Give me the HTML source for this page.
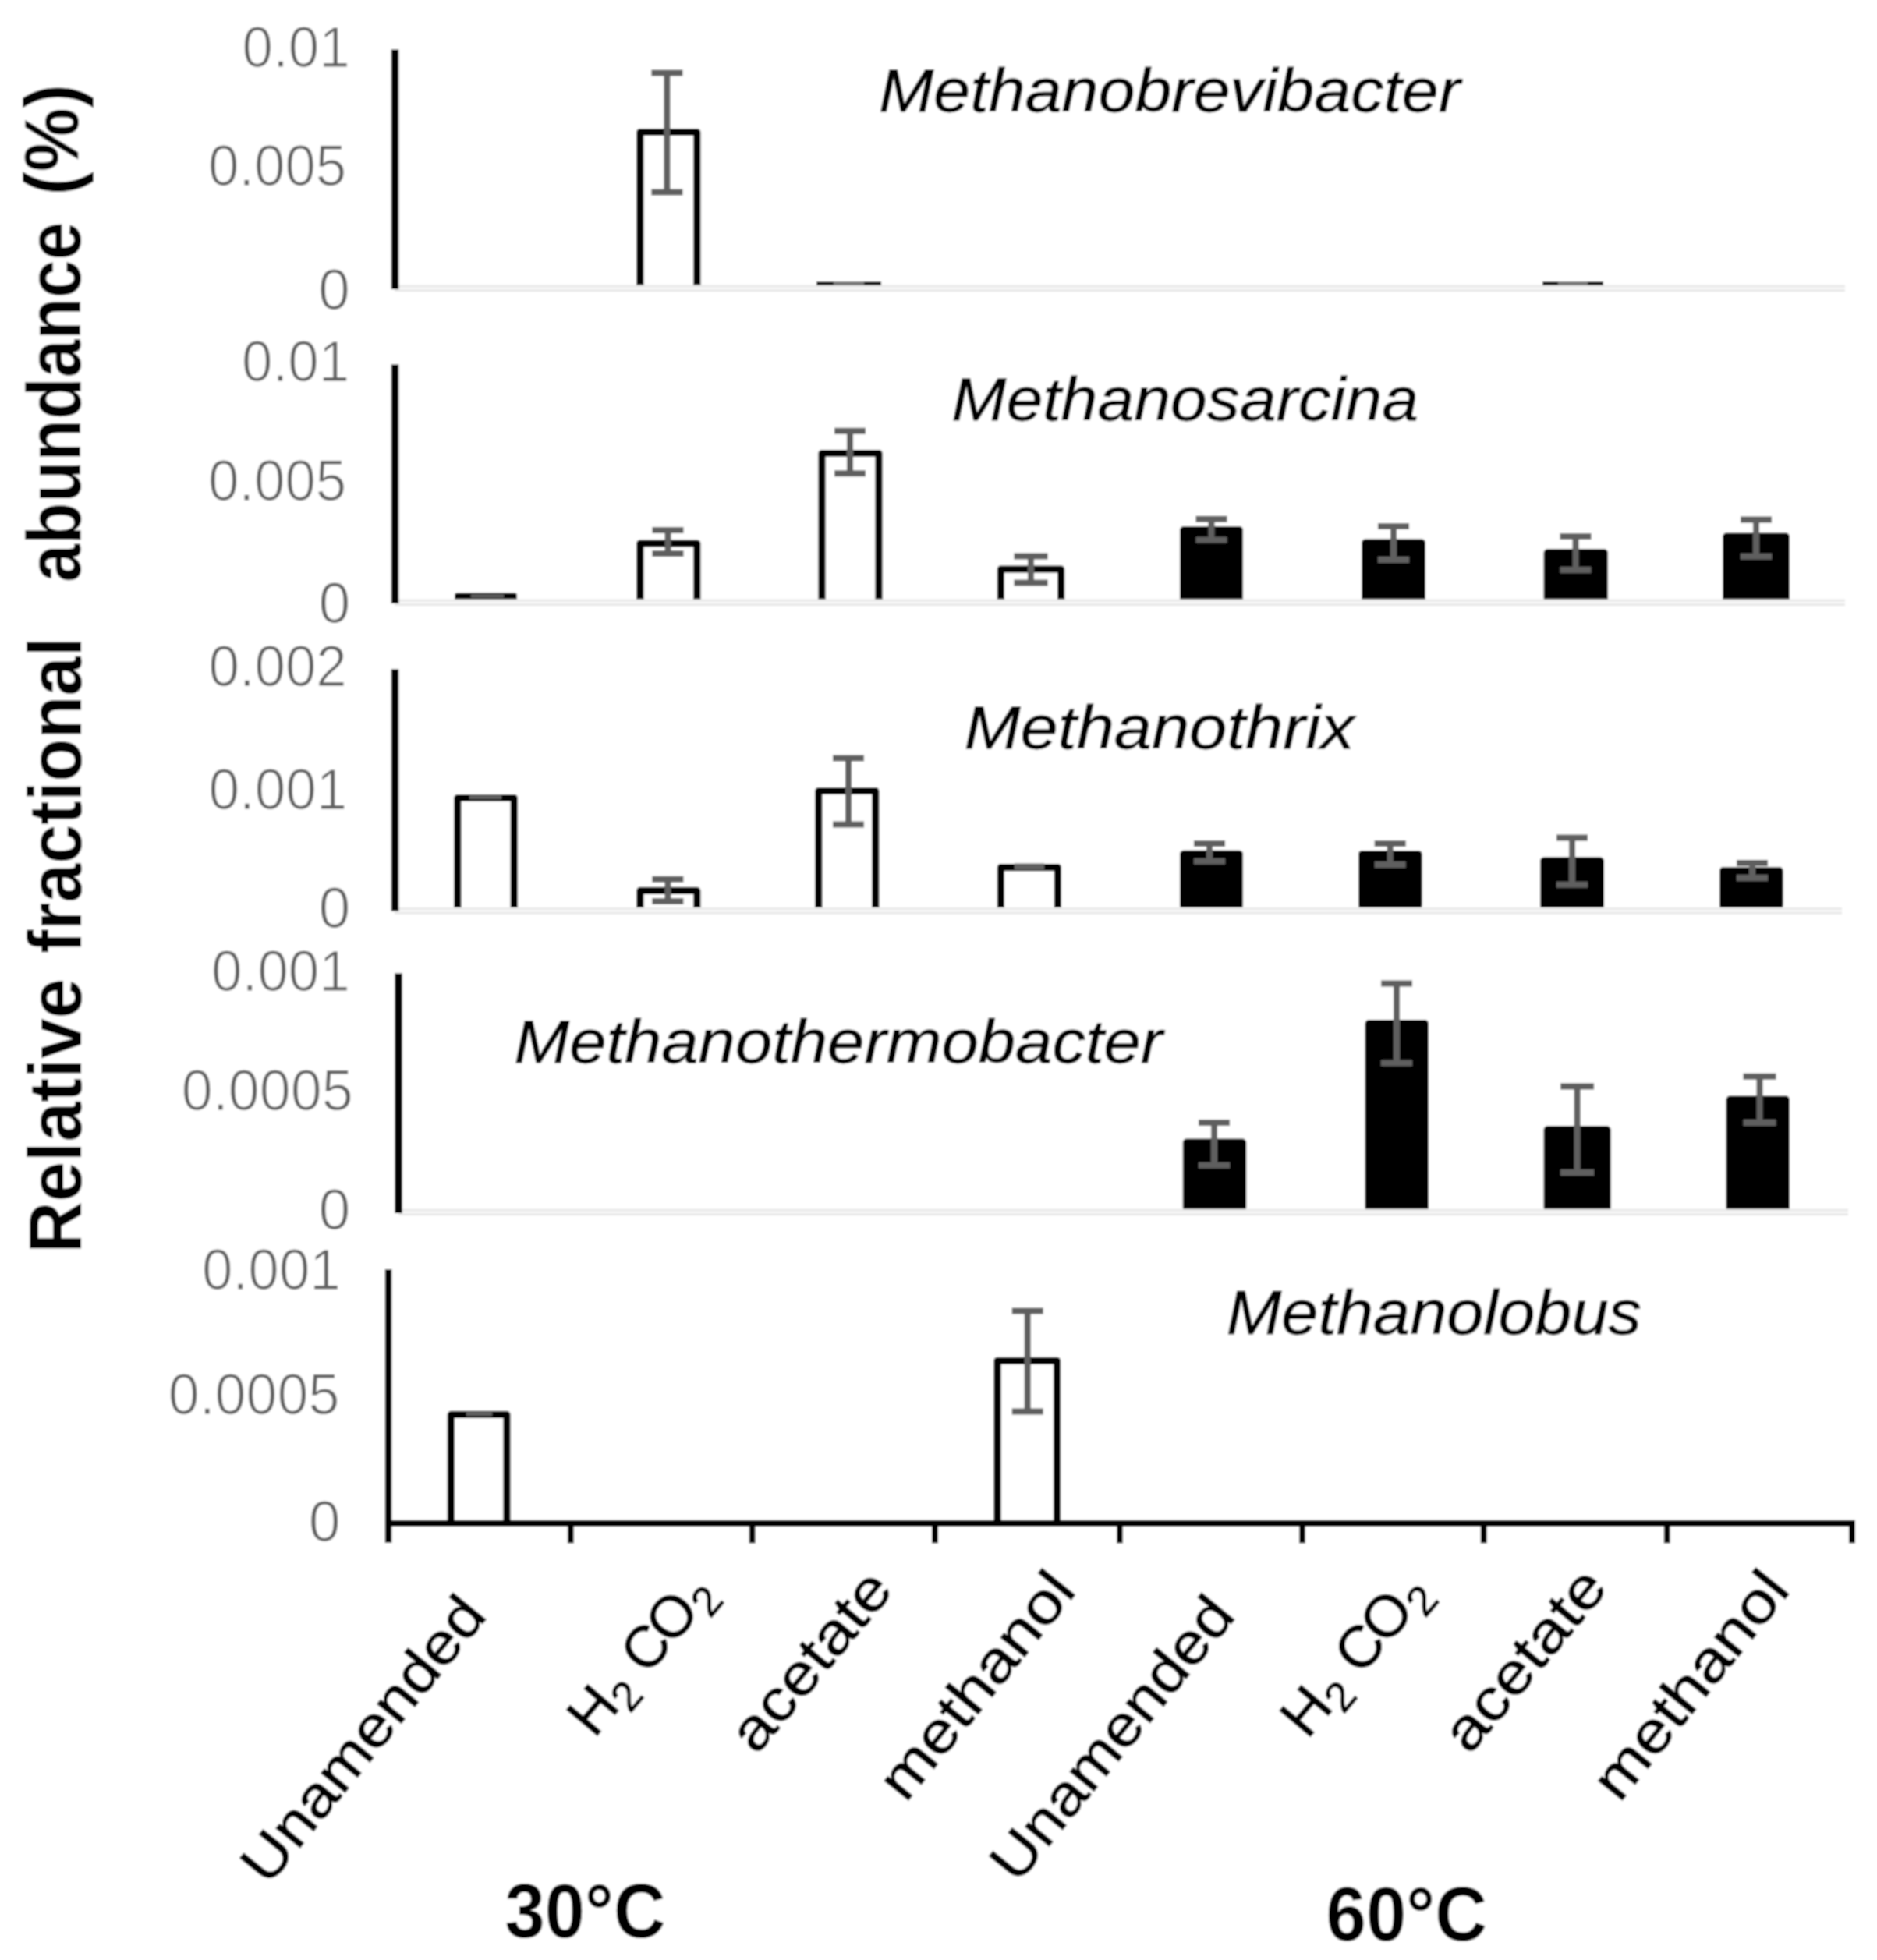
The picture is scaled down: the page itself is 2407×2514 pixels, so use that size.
<!DOCTYPE html>
<html lang="en"><head><meta charset="utf-8"><title>Relative fractional abundance of methanogens</title>
<style>
html,body{margin:0;padding:0;background:#fff;}
body{width:2407px;height:2514px;overflow:hidden;}
svg{display:block;}
svg text{font-family:"Liberation Sans",sans-serif;fill:#000;}
svg text.tk{fill:#606060;stroke:#fff;stroke-width:1.1px;}
svg text.gn{font-style:italic;stroke:#000;stroke-width:0.8px;}
svg text.ct{stroke:#000;stroke-width:1.3px;}
svg text.yt{font-weight:bold;}
</style></head><body>
<svg width="2407" height="2514" viewBox="0 0 2407 2514">
<defs><filter id="soft" x="0" y="0" width="2407" height="2514" filterUnits="userSpaceOnUse"><feGaussianBlur stdDeviation="1.2"/></filter></defs>
<rect width="2407" height="2514" fill="#fff"/>
<g filter="url(#soft)">
<rect width="2407" height="2514" fill="#fff"/>
<g id="p1">
<path d="M820.8 369 V169.5 H893.8 V369" fill="none" stroke="#000" stroke-width="9.2" stroke-linejoin="round"/>
<path d="M506 367.4 H2366" stroke="#eaeaea" stroke-width="3.6" fill="none"/>
<path d="M506 372.6 H2366" stroke="#e7e7e7" stroke-width="3" fill="none"/>
<line x1="506.5" y1="63.5" x2="506.5" y2="371" stroke="#000" stroke-width="9.6" stroke-linecap="butt"/>
<path d="M835.4 93.5 H875.4 M855.4 93.5 V246.5 M835.4 246.5 H875.4" fill="none" stroke="#5f5f5f" stroke-width="8.0" stroke-linecap="butt"/>
<line x1="1047" y1="363.4" x2="1130" y2="363.4" stroke="#1a1a1a" stroke-width="5" stroke-linecap="butt"/>
<line x1="1069" y1="363.4" x2="1108" y2="363.4" stroke="#777" stroke-width="5" stroke-linecap="butt"/>
<line x1="1978" y1="363.4" x2="2056" y2="363.4" stroke="#1a1a1a" stroke-width="5" stroke-linecap="butt"/>
<line x1="1998" y1="363.4" x2="2036" y2="363.4" stroke="#777" stroke-width="5" stroke-linecap="butt"/>
</g>
<g id="p2">
<rect x="583" y="760.4" width="80" height="9.6" rx="3" fill="#000"/>
<path d="M820.8 771.5 V697.0 H893.8 V771.5" fill="none" stroke="#000" stroke-width="9.2" stroke-linejoin="round"/>
<path d="M1054.0 771.5 V581.5 H1127.0 V771.5" fill="none" stroke="#000" stroke-width="9.2" stroke-linejoin="round"/>
<path d="M1283.4 771.5 V730.0 H1360.6 V771.5" fill="none" stroke="#000" stroke-width="9.2" stroke-linejoin="round"/>
<rect x="1513" y="675" width="81" height="96.5" rx="5" fill="#000"/>
<rect x="1746" y="691.4" width="82" height="80.1" rx="5" fill="#000"/>
<rect x="1979.6" y="704.3" width="82.4" height="67.2" rx="5" fill="#000"/>
<rect x="2209" y="683.6" width="86" height="87.9" rx="5" fill="#000"/>
<path d="M506 770.4 H2366" stroke="#eaeaea" stroke-width="3.6" fill="none"/>
<path d="M506 775.6 H2366" stroke="#e7e7e7" stroke-width="3" fill="none"/>
<line x1="506.5" y1="467.5" x2="506.5" y2="774" stroke="#000" stroke-width="9.6" stroke-linecap="butt"/>
<line x1="604" y1="764.6" x2="646" y2="764.6" stroke="#5f5f5f" stroke-width="4.5" stroke-linecap="butt"/>
<path d="M836.5 680 H876.5 M856.5 680 V710 M836.5 710 H876.5" fill="none" stroke="#5f5f5f" stroke-width="8.0" stroke-linecap="butt"/>
<path d="M1070.0 552.8 H1110.0 M1090 552.8 V607.3 M1070.0 607.3 H1110.0" fill="none" stroke="#5f5f5f" stroke-width="8.0" stroke-linecap="butt"/>
<path d="M1300.5 713.5 H1343.5 M1322 713.5 V747.5 M1300.5 747.5 H1343.5" fill="none" stroke="#5f5f5f" stroke-width="8.0" stroke-linecap="butt"/>
<path d="M1533.5 665.7 H1573.5 M1553.5 665.7 V692.6 M1533.5 692.6 H1573.5" fill="none" stroke="#5f5f5f" stroke-width="8.0" stroke-linecap="butt"/>
<path d="M1767.0 675 H1807.0 M1787 675 V718 M1767.0 718 H1807.0" fill="none" stroke="#5f5f5f" stroke-width="8.0" stroke-linecap="butt"/>
<path d="M2000.5 688 H2040.5 M2020.5 688 V731 M2000.5 731 H2040.5" fill="none" stroke="#5f5f5f" stroke-width="8.0" stroke-linecap="butt"/>
<path d="M2232.0 666.5 H2272.0 M2252 666.5 V713.7 M2232.0 713.7 H2272.0" fill="none" stroke="#5f5f5f" stroke-width="8.0" stroke-linecap="butt"/>
</g>
<g id="p3">
<path d="M586.8 1166 V1023.5 H659.3 V1166" fill="none" stroke="#000" stroke-width="9.2" stroke-linejoin="round"/>
<path d="M820.8 1166 V1142.4 H893.8 V1166" fill="none" stroke="#000" stroke-width="9.2" stroke-linejoin="round"/>
<path d="M1049.8 1166 V1014.5 H1122.8 V1166" fill="none" stroke="#000" stroke-width="9.2" stroke-linejoin="round"/>
<path d="M1283.4 1166 V1112.6 H1356.4 V1166" fill="none" stroke="#000" stroke-width="9.2" stroke-linejoin="round"/>
<rect x="1513" y="1090.7" width="81" height="75.3" rx="5" fill="#000"/>
<rect x="1742" y="1090.9" width="81.6" height="75.1" rx="5" fill="#000"/>
<rect x="1975" y="1099.5" width="82" height="66.5" rx="5" fill="#000"/>
<rect x="2205" y="1112" width="81.6" height="54" rx="5" fill="#000"/>
<path d="M506 1165.7 H2362" stroke="#eaeaea" stroke-width="3.6" fill="none"/>
<path d="M506 1170.9 H2362" stroke="#e7e7e7" stroke-width="3" fill="none"/>
<line x1="506.5" y1="858.5" x2="506.5" y2="1168.5" stroke="#000" stroke-width="9.6" stroke-linecap="butt"/>
<line x1="602" y1="1022.5" x2="643" y2="1022.5" stroke="#5f5f5f" stroke-width="5" stroke-linecap="butt"/>
<path d="M836.4 1127.8 H876.4 M856.4 1127.8 V1156 M836.4 1156 H876.4" fill="none" stroke="#5f5f5f" stroke-width="8.0" stroke-linecap="butt"/>
<path d="M1068.0 972.6 H1108.0 M1088 972.6 V1057.4 M1068.0 1057.4 H1108.0" fill="none" stroke="#5f5f5f" stroke-width="8.0" stroke-linecap="butt"/>
<line x1="1301" y1="1111.5" x2="1339" y2="1111.5" stroke="#5f5f5f" stroke-width="8" stroke-linecap="butt"/>
<path d="M1531.0 1082 H1571.0 M1551 1082 V1104.7 M1531.0 1104.7 H1571.0" fill="none" stroke="#5f5f5f" stroke-width="8.0" stroke-linecap="butt"/>
<path d="M1762.7 1082 H1802.7 M1782.7 1082 V1109 M1762.7 1109 H1802.7" fill="none" stroke="#5f5f5f" stroke-width="8.0" stroke-linecap="butt"/>
<path d="M1996.0 1074.5 H2036.0 M2016 1074.5 V1134.7 M1996.0 1134.7 H2036.0" fill="none" stroke="#5f5f5f" stroke-width="8.0" stroke-linecap="butt"/>
<path d="M2227.0 1107 H2267.0 M2247 1107 V1126 M2227.0 1126 H2267.0" fill="none" stroke="#5f5f5f" stroke-width="8.0" stroke-linecap="butt"/>
</g>
<g id="p4">
<rect x="1516.8" y="1460.6" width="81.4" height="92.9" rx="5" fill="#000"/>
<rect x="1750.5" y="1308" width="81.5" height="245.5" rx="5" fill="#000"/>
<rect x="1979.6" y="1444.3" width="86.0" height="109.2" rx="5" fill="#000"/>
<rect x="2213.5" y="1405.6" width="81.5" height="147.9" rx="5" fill="#000"/>
<path d="M511 1552.4 H2370" stroke="#eaeaea" stroke-width="3.6" fill="none"/>
<path d="M511 1557.6 H2370" stroke="#e7e7e7" stroke-width="3" fill="none"/>
<line x1="511" y1="1248.5" x2="511" y2="1556" stroke="#000" stroke-width="9.6" stroke-linecap="butt"/>
<path d="M1537.0 1440 H1577.0 M1557 1440 V1494.7 M1537.0 1494.7 H1577.0" fill="none" stroke="#5f5f5f" stroke-width="8.0" stroke-linecap="butt"/>
<path d="M1771.0 1261.6 H1811.0 M1791 1261.6 V1363.5 M1771.0 1363.5 H1811.0" fill="none" stroke="#5f5f5f" stroke-width="8.0" stroke-linecap="butt"/>
<path d="M2001.1 1393.6 H2044.1 M2022.6 1393.6 V1504 M2001.1 1504 H2044.1" fill="none" stroke="#5f5f5f" stroke-width="8.0" stroke-linecap="butt"/>
<path d="M2235.5 1380.7 H2277.5 M2256.5 1380.7 V1440 M2235.5 1440 H2277.5" fill="none" stroke="#5f5f5f" stroke-width="8.0" stroke-linecap="butt"/>
</g>
<g id="p5">
<path d="M578.3 1954 V1814.4 H650.0 V1954" fill="none" stroke="#000" stroke-width="9.2" stroke-linejoin="round"/>
<path d="M1279.0 1954 V1745.3 H1355.5 V1954" fill="none" stroke="#000" stroke-width="9.2" stroke-linejoin="round"/>
<line x1="598" y1="1813.5" x2="631" y2="1813.5" stroke="#5f5f5f" stroke-width="5" stroke-linecap="butt"/>
<path d="M1297.7 1681.6 H1337.7 M1317.7 1681.6 V1810.4 M1297.7 1810.4 H1337.7" fill="none" stroke="#5f5f5f" stroke-width="8.0" stroke-linecap="butt"/>
<line x1="494" y1="1953.8" x2="2378.9" y2="1953.8" stroke="#000" stroke-width="8.2" stroke-linecap="butt"/>
<line x1="498" y1="1628" x2="498" y2="1979" stroke="#000" stroke-width="8.5" stroke-linecap="butt"/>
<line x1="731.8" y1="1954" x2="731.8" y2="1979.4" stroke="#000" stroke-width="7.8" stroke-linecap="butt"/>
<line x1="964.6" y1="1954" x2="964.6" y2="1979.4" stroke="#000" stroke-width="7.8" stroke-linecap="butt"/>
<line x1="1198.9" y1="1954" x2="1198.9" y2="1979.4" stroke="#000" stroke-width="7.8" stroke-linecap="butt"/>
<line x1="1435.9" y1="1954" x2="1435.9" y2="1979.4" stroke="#000" stroke-width="7.8" stroke-linecap="butt"/>
<line x1="1669.9" y1="1954" x2="1669.9" y2="1979.4" stroke="#000" stroke-width="7.8" stroke-linecap="butt"/>
<line x1="1902.7" y1="1954" x2="1902.7" y2="1979.4" stroke="#000" stroke-width="7.8" stroke-linecap="butt"/>
<line x1="2137.7" y1="1954" x2="2137.7" y2="1979.4" stroke="#000" stroke-width="7.8" stroke-linecap="butt"/>
<line x1="2375" y1="1954" x2="2375" y2="1979.4" stroke="#000" stroke-width="7.8" stroke-linecap="butt"/>
</g>
<g id="labels">
<text class="tk" transform="translate(310.5 85.8) scale(1.015 1.062)" font-size="70">0.01</text>
<text class="tk" transform="translate(267.0 238.2) scale(1.012 1.062)" font-size="70">0.005</text>
<text class="tk" transform="translate(408.0 397.2) scale(1.05 1.062)" font-size="70">0</text>
<text class="tk" transform="translate(310.0 489.2) scale(1.015 1.062)" font-size="70">0.01</text>
<text class="tk" transform="translate(267.0 642.2) scale(1.012 1.062)" font-size="70">0.005</text>
<text class="tk" transform="translate(408.5 799.2) scale(1.05 1.062)" font-size="70">0</text>
<text class="tk" transform="translate(267.5 879.8) scale(1.012 1.062)" font-size="70">0.002</text>
<text class="tk" transform="translate(267.5 1037.8) scale(1.015 1.062)" font-size="70">0.001</text>
<text class="tk" transform="translate(408.5 1190.2) scale(1.05 1.062)" font-size="70">0</text>
<text class="tk" transform="translate(271.0 1270.8) scale(1.015 1.062)" font-size="70">0.001</text>
<text class="tk" transform="translate(232.8 1423.8) scale(1.027 1.062)" font-size="70">0.0005</text>
<text class="tk" transform="translate(408.5 1577.2) scale(1.05 1.062)" font-size="70">0</text>
<text class="tk" transform="translate(259.0 1653.8) scale(1.015 1.062)" font-size="70">0.001</text>
<text class="tk" transform="translate(215.7 1814.2) scale(1.026 1.062)" font-size="70">0.0005</text>
<text class="tk" transform="translate(395.7 1976.8) scale(1.05 1.062)" font-size="70">0</text>
<text class="gn" transform="translate(1127.0 143.4) scale(1.055 0.98)" font-size="80">Methanobrevibacter</text>
<text class="gn" transform="translate(1220.3 539.3) scale(1.052 0.983)" font-size="80">Methanosarcina</text>
<text class="gn" transform="translate(1236.4 959.5) scale(1.082 0.976)" font-size="80">Methanothrix</text>
<text class="gn" transform="translate(659.3 1363.2) scale(1.063 0.97)" font-size="80">Methanothermobacter</text>
<text class="gn" transform="translate(1572.7 1711.1) scale(1.059 0.99)" font-size="80">Methanolobus</text>
<text class="yt" transform="translate(104.0 1607.6) rotate(-90.00) scale(0.919 0.963)" font-size="100">Relative</text>
<text class="yt" transform="translate(104.0 1222.8) rotate(-90.00) scale(0.901 0.963)" font-size="100">fractional</text>
<text class="yt" transform="translate(103.4 746.7) rotate(-90.00) scale(0.875 0.978)" font-size="100">abundance</text>
<text class="yt" transform="translate(100.4 250.5) rotate(-90.00) scale(0.917 0.992)" font-size="100">(%)</text>
<text class="yt" transform="translate(647.5 2485.4) scale(0.922 0.989)" font-size="100">30°C</text>
<text class="yt" transform="translate(1700.6 2489.4) scale(0.923 0.989)" font-size="100">60°C</text>
<text class="ct" transform="translate(343.8 2420.4) rotate(-50.87) scale(1.054 0.96)" font-size="78">Unamended</text>
<text class="ct" transform="translate(762.0 2230.7) rotate(-49.82) scale(0.964 0.96)" font-size="78">H<tspan font-size="56" dy="15">2</tspan><tspan dy="-15"> C</tspan><tspan dx="-4.5">O</tspan><tspan font-size="56" dy="15">2</tspan></text>
<text class="ct" transform="translate(970.0 2252.2) rotate(-50.02) scale(1.081 0.96)" font-size="78">acetate</text>
<text class="ct" transform="translate(1161.2 2313.6) rotate(-50.94) scale(1.092 0.96)" font-size="78">methanol</text>
<text class="ct" transform="translate(1304.4 2417.9) rotate(-50.71) scale(1.048 0.96)" font-size="78">Unamended</text>
<text class="ct" transform="translate(1676.2 2232.3) rotate(-49.70) scale(0.979 0.96)" font-size="78">H<tspan font-size="56" dy="15">2</tspan><tspan dy="-15"> C</tspan><tspan dx="-4.5">O</tspan><tspan font-size="56" dy="15">2</tspan></text>
<text class="ct" transform="translate(1884.6 2252.1) rotate(-50.15) scale(1.093 0.96)" font-size="78">acetate</text>
<text class="ct" transform="translate(2076.7 2313.5) rotate(-51.03) scale(1.094 0.96)" font-size="78">methanol</text>
</g>
</g></svg></body></html>
